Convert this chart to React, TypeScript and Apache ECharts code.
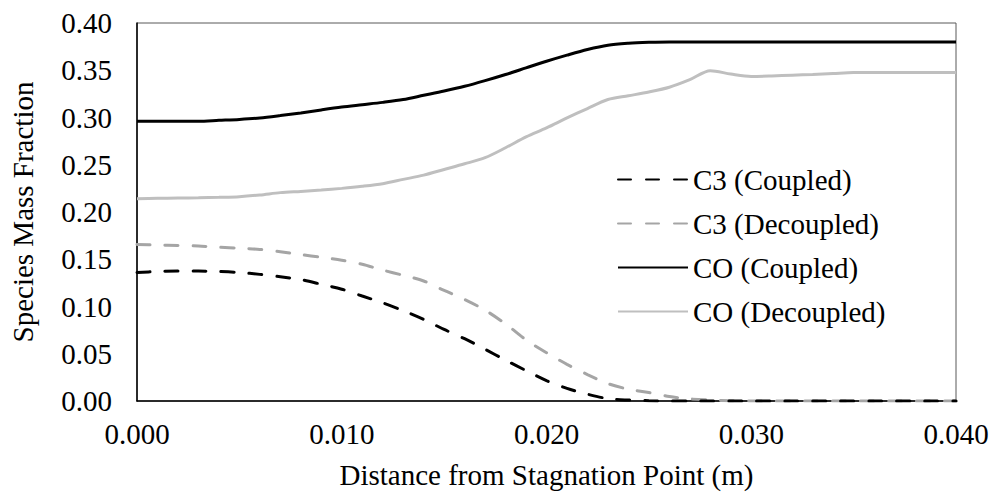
import React, { useEffect, useRef } from "react";
import * as echarts from "echarts";

// Distance from stagnation point (m), step 0.001
const xValues: number[] = [
  0.000, 0.001, 0.002, 0.003, 0.004, 0.005, 0.006, 0.007, 0.008, 0.009,
  0.010, 0.011, 0.012, 0.013, 0.014, 0.015, 0.016, 0.017, 0.018, 0.019,
  0.020, 0.021, 0.022, 0.023, 0.024, 0.025, 0.026, 0.027, 0.028, 0.029,
  0.030, 0.031, 0.032, 0.033, 0.034, 0.035, 0.036, 0.037, 0.038, 0.039, 0.040,
];

const c3Coupled: number[] = [
  0.136, 0.137, 0.1375, 0.1375, 0.137, 0.136, 0.134, 0.1315, 0.1285, 0.1235,
  0.1183, 0.1111, 0.1039, 0.0956, 0.0864, 0.0757, 0.0659, 0.0548, 0.0432, 0.0322,
  0.0216, 0.0133, 0.0072, 0.0025, 0.001, 0.0003, 0, 0, 0, 0,
  0, 0, 0, 0, 0, 0, 0, 0, 0, 0, 0,
];

const c3Decoupled: number[] = [
  0.1657, 0.165, 0.1645, 0.164, 0.1627, 0.1617, 0.1604, 0.158, 0.155, 0.152,
  0.149, 0.1447, 0.1385, 0.133, 0.127, 0.117, 0.1075, 0.0961, 0.0816, 0.0647,
  0.0511, 0.0388, 0.028, 0.0184, 0.0125, 0.009, 0.0047, 0.0022, 0.001, 0.0003,
  0, 0, 0, 0, 0, 0, 0, 0, 0, 0, 0,
];

const coCoupled: number[] = [
  0.296, 0.296, 0.296, 0.296, 0.297, 0.298, 0.2995, 0.302, 0.3048, 0.308,
  0.311, 0.3135, 0.316, 0.319, 0.3235, 0.328, 0.333, 0.339, 0.3455, 0.3525,
  0.3595, 0.366, 0.372, 0.3765, 0.3785, 0.3795, 0.38, 0.38, 0.38, 0.38,
  0.38, 0.38, 0.38, 0.38, 0.38, 0.38, 0.38, 0.38, 0.38, 0.38, 0.38,
];

const coDecoupled: number[] = [
  0.214, 0.2145, 0.2148, 0.215, 0.2155, 0.2162, 0.218, 0.2205, 0.2218, 0.2232,
  0.225, 0.2272, 0.23, 0.2345, 0.239, 0.245, 0.251, 0.2575, 0.268, 0.2795,
  0.289, 0.2995, 0.3095, 0.319, 0.323, 0.327, 0.332, 0.34, 0.3495, 0.346,
  0.3435, 0.344, 0.3448, 0.3455, 0.3465, 0.3475, 0.3475, 0.3475, 0.3475, 0.3475, 0.3475,
];

const seriesNames: string[] = ["C3 (Coupled)", "C3 (Decoupled)", "CO (Coupled)", "CO (Decoupled)"];

const FONT = "'Liberation Serif', 'Times New Roman', serif";
const FS = 29;

function pairs(ys: number[]): [number, number][] {
  return xValues.map((x, i) => [x, ys[i]]);
}

export default function App() {
  const ref = useRef<HTMLDivElement>(null);

  useEffect(() => {
    document.body.style.margin = "0";
    if (!ref.current) return;
    const chart = echarts.init(ref.current, undefined, { renderer: "svg" });
    const dash = [13, 15];
    const option: any = {
      animation: false,
      backgroundColor: "#ffffff",
      textStyle: { fontFamily: FONT },
      grid: {
        left: 137,
        right: 39,
        top: 23,
        bottom: 92,
        show: true,
        borderColor: "#595959",
        borderWidth: 1,
      },
      legend: {
        orient: "vertical",
        left: 617,
        top: 165,
        padding: 0,
        itemWidth: 70,
        itemHeight: 14,
        itemGap: 15,
        itemStyle: { opacity: 0 },
        textStyle: { fontFamily: FONT, fontSize: FS, color: "#000" },
        data: seriesNames,
      },
      xAxis: {
        type: "value",
        min: 0,
        max: 0.04,
        interval: 0.01,
        name: "Distance from Stagnation Point (m)",
        nameLocation: "middle",
        nameGap: 59,
        nameTextStyle: { fontFamily: FONT, fontSize: FS, color: "#000" },
        axisLine: { show: true, onZero: false, lineStyle: { color: "#000", width: 1.5 } },
        axisTick: { show: false },
        splitLine: { show: false },
        axisLabel: {
          fontFamily: FONT,
          fontSize: FS,
          color: "#000",
          margin: 18,
          formatter: (v: number) => v.toFixed(3),
        },
      },
      yAxis: {
        type: "value",
        min: 0,
        max: 0.4,
        interval: 0.05,
        name: "Species Mass Fraction",
        nameLocation: "middle",
        nameGap: 100,
        nameTextStyle: { fontFamily: FONT, fontSize: FS, color: "#000" },
        axisLine: { show: true, lineStyle: { color: "#000", width: 1.5 } },
        axisTick: { show: false },
        splitLine: { show: false },
        axisLabel: {
          fontFamily: FONT,
          fontSize: FS,
          color: "#000",
          margin: 25,
          formatter: (v: number) => v.toFixed(2),
        },
      },
      series: [
        {
          name: seriesNames[0],
          type: "line",
          data: pairs(c3Coupled),
          showSymbol: false,
          symbol: "none",
          smooth: 0.3,
          z: 4,
          lineStyle: { color: "#000000", width: 3, type: dash, cap: "round" },
          itemStyle: { color: "#000000" },
        },
        {
          name: seriesNames[1],
          type: "line",
          data: pairs(c3Decoupled),
          showSymbol: false,
          symbol: "none",
          smooth: 0.3,
          z: 3,
          lineStyle: { color: "#a5a5a5", width: 3, type: dash, cap: "round" },
          itemStyle: { color: "#a5a5a5" },
        },
        {
          name: seriesNames[2],
          type: "line",
          data: pairs(coCoupled),
          showSymbol: false,
          symbol: "none",
          smooth: 0.3,
          lineStyle: { color: "#000000", width: 3 },
          itemStyle: { color: "#000000" },
        },
        {
          name: seriesNames[3],
          type: "line",
          data: pairs(coDecoupled),
          showSymbol: false,
          symbol: "none",
          smooth: 0.3,
          lineStyle: { color: "#bfbfbf", width: 3 },
          itemStyle: { color: "#bfbfbf" },
        },
      ],
    };
    chart.setOption(option);
    return () => chart.dispose();
  }, []);

  return <div ref={ref} style={{ width: 995, height: 494 }} />;
}
